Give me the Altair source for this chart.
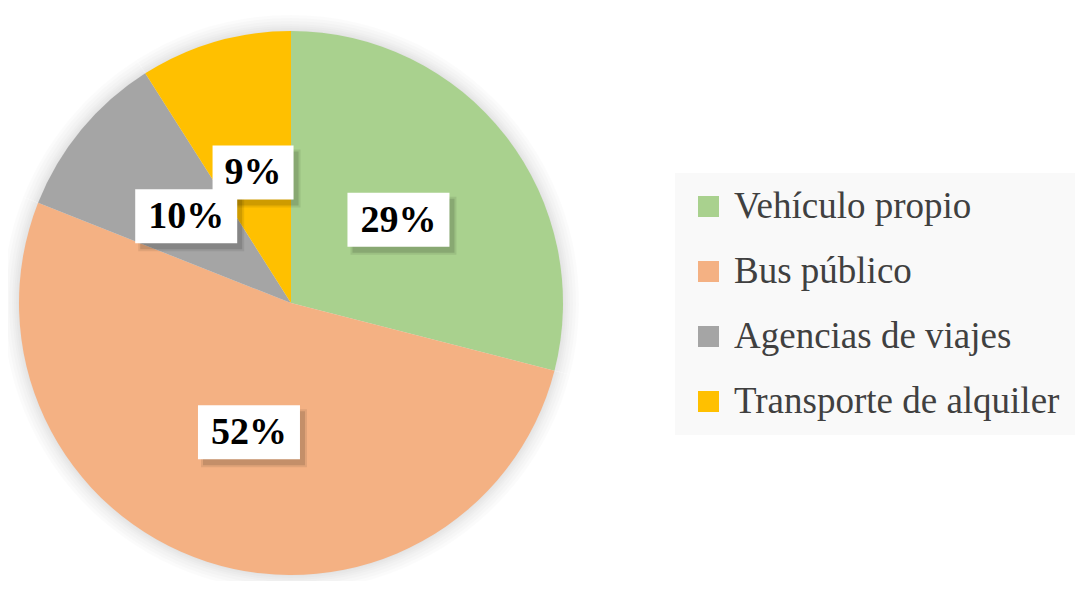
import altair as alt
import pandas as pd

categories = ["Vehículo propio", "Bus público", "Agencias de viajes", "Transporte de alquiler"]
shares = [29, 52, 10, 9]
labels = ["29%", "52%", "10%", "9%"]
colors = ["#A9D18E", "#F4B183", "#A5A5A5", "#FFC000"]

df = pd.DataFrame({"cat": categories, "share": shares, "label": labels, "idx": list(range(len(categories)))})

CX, CY, R = 283, 295, 272
RL = 0.5 * R
FONT = "Liberation Serif"

base = alt.Chart(df)

color = alt.Color(
    "cat:N",
    scale=alt.Scale(domain=categories, range=colors),
    sort=categories,
    legend=alt.Legend(
        title=None, orient="none", legendX=667, legendY=165,
        symbolType="square", symbolSize=441, symbolStrokeWidth=0,
        labelFont=FONT, labelFontSize=37, labelColor="#404040",
        rowPadding=27, padding=15, fillColor="#F9F9F9", labelLimit=600,
        labelOffset=7,
    ),
)

glow = [
    base.mark_arc(outerRadius=R + k, color="#000000", opacity=0.015).encode(
        theta=alt.Theta("share:Q", stack=True),
        order=alt.Order("idx:Q"),
        x=alt.value(CX), y=alt.value(CY),
    )
    for k in (1, 3, 5, 7, 10, 13, 16)
]

pie = base.mark_arc(outerRadius=R).encode(
    theta=alt.Theta("share:Q", stack=True),
    color=color,
    order=alt.Order("idx:Q"),
    x=alt.value(CX), y=alt.value(CY),
)

pos = (
    base.transform_window(cum="sum(share)", sort=[alt.SortField("idx")], frame=[None, 0])
    .transform_joinaggregate(total="sum(share)")
    .transform_calculate(ang="2*PI*(datum.cum - datum.share/2)/datum.total")
    .transform_calculate(
        lx=f"{CX} + {RL}*sin(datum.ang)",
        ly=f"{CY} - {RL}*cos(datum.ang)",
        bw="21*length(datum.label)+39",
    )
    .transform_calculate(
        x1="datum.lx - datum.bw/2", x2="datum.lx + datum.bw/2",
        y1="datum.ly - 27", y2="datum.ly + 27",
        sx1="datum.lx - datum.bw/2 + 3", sx2="datum.lx + datum.bw/2 + 7",
        sy1="datum.ly - 27 + 4", sy2="datum.ly + 27 + 8",
        tx1="datum.lx - datum.bw/2 + 5", tx2="datum.lx + datum.bw/2 + 5",
        ty1="datum.ly - 27 + 6", ty2="datum.ly + 27 + 6",
    )
)

shadow_outer = pos.mark_rect(color="#000000", opacity=0.08).encode(
    x=alt.X("sx1:Q", scale=None, axis=None), x2="sx2:Q",
    y=alt.Y("sy1:Q", scale=None, axis=None), y2="sy2:Q",
)
shadow = pos.mark_rect(color="#000000", opacity=0.12).encode(
    x=alt.X("tx1:Q", scale=None, axis=None), x2="tx2:Q",
    y=alt.Y("ty1:Q", scale=None, axis=None), y2="ty2:Q",
)
box = pos.mark_rect(color="#FFFFFF").encode(
    x=alt.X("x1:Q", scale=None, axis=None), x2="x2:Q",
    y=alt.Y("y1:Q", scale=None, axis=None), y2="y2:Q",
)
text = pos.mark_text(font=FONT, fontSize=38, fontWeight="bold", color="#000000",
                     align="center", baseline="middle", dy=1).encode(
    x=alt.X("lx:Q", scale=None, axis=None),
    y=alt.Y("ly:Q", scale=None, axis=None),
    text="label:N",
)

chart = alt.layer(*glow, pie, shadow_outer, shadow, box, text).properties(
    width=1067, height=573, padding=0, autosize="none", background="#FFFFFF"
).configure_view(stroke=None)

chart.save("out.html", embed_options={"renderer": "svg", "actions": False})
